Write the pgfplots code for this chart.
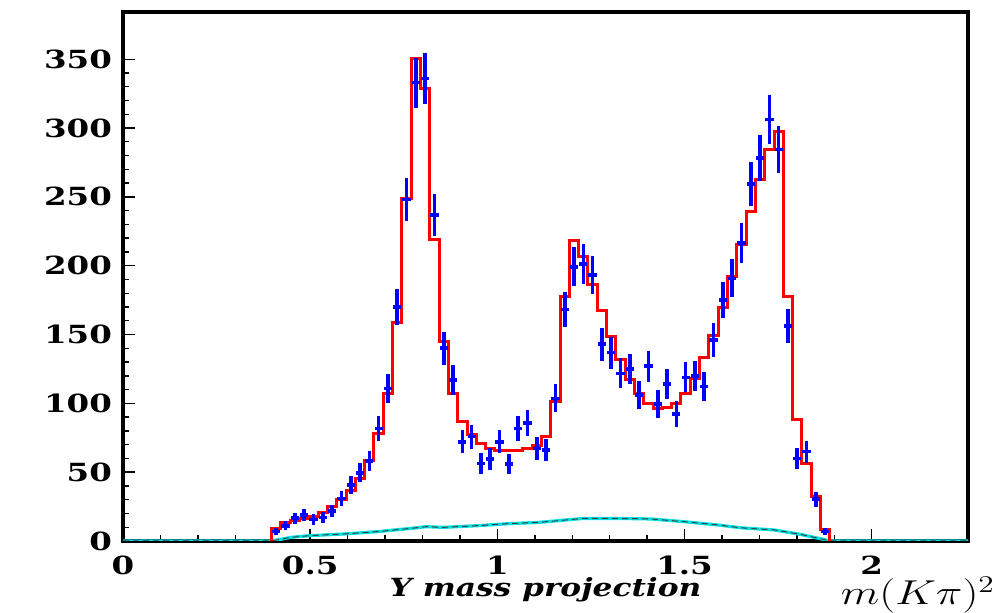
\documentclass[border=0pt]{standalone}
\usepackage{pgfplots}
\pgfplotsset{compat=1.18}
\usepackage{pgfplotstable}
\usepackage{graphicx}
\usepackage{fontspec}
\setmainfont{DejaVu Serif}

\definecolor{fitred}{RGB}{255,0,0}
\definecolor{datablue}{RGB}{0,0,255}
\definecolor{bkgcyan}{RGB}{0,225,225}

% fit histogram: left bin edges and bin contents
\pgfplotstableread{
x h
0.3970 0
0.3970 9.2
0.4219 13.3
0.4467 14.8
0.4716 16.5
0.4964 17.7
0.5213 20.6
0.5461 24.9
0.5710 30.3
0.5958 37.0
0.6207 45.5
0.6455 58.8
0.6704 78.2
0.6952 107.0
0.7201 158.5
0.7449 248.9
0.7698 350.5
0.7946 328.7
0.8195 219.1
0.8443 144.8
0.8692 107.0
0.8940 86.7
0.9189 77.0
0.9437 70.9
0.9686 67.3
0.9934 66.1
1.0183 66.1
1.0431 66.1
1.0680 67.3
1.0928 69.7
1.1177 75.8
1.1425 101.2
1.1674 177.4
1.1922 218.1
1.2171 206.5
1.2419 186.6
1.2668 167.8
1.2916 148.4
1.3165 131.9
1.3413 117.4
1.3662 106.8
1.3910 100.0
1.4159 96.4
1.4407 97.1
1.4656 100.0
1.4904 107.2
1.5153 118.1
1.5401 133.1
1.5650 149.1
1.5898 169.7
1.6147 191.9
1.6395 215.5
1.6644 239.2
1.6892 262.9
1.7141 284.7
1.7389 297.3
1.7638 177.4
1.7886 87.9
1.8135 56.4
1.8383 32.2
1.8632 8.5
1.8880 8.5
1.8880 0
}\fittable

% data: bin centre, entries, error
\pgfplotstableread{
x y e
0.4094 6.8 2.6
0.4343 11.1 3.3
0.4591 16.5 4.1
0.4840 18.9 4.3
0.5088 15.7 4.0
0.5337 17.2 4.1
0.5585 21.8 4.7
0.5834 31.0 5.6
0.6082 40.7 6.4
0.6331 49.6 7.0
0.6579 58.1 7.6
0.6828 81.8 9.0
0.7076 110.9 10.5
0.7325 170.0 13.0
0.7573 248.0 15.7
0.7822 333.0 18.2
0.8070 336.0 18.3
0.8319 237.0 15.4
0.8567 140.0 11.8
0.8816 117.0 10.8
0.9064 72.1 8.5
0.9313 75.8 8.7
0.9561 56.4 7.5
0.9810 59.5 7.7
1.0058 72.1 8.5
1.0307 55.9 7.5
1.0555 81.8 9.0
1.0804 85.9 9.3
1.1052 67.3 8.2
1.1301 66.1 8.1
1.1549 103.6 10.2
1.1798 168.2 13.0
1.2046 199.2 14.1
1.2295 201.2 14.2
1.2543 193.2 13.9
1.2792 143.0 12.0
1.3040 136.8 11.7
1.3289 121.8 11.0
1.3537 124.9 11.2
1.3786 106.0 10.3
1.4034 127.0 11.3
1.4283 99.5 10.0
1.4531 114.0 10.7
1.4780 92.2 9.6
1.5028 118.9 10.9
1.5277 119.8 10.9
1.5525 112.1 10.6
1.5774 146.0 12.1
1.6022 175.0 13.2
1.6271 190.8 13.8
1.6519 216.6 14.7
1.6768 259.3 16.1
1.7016 278.4 16.7
1.7265 306.2 17.5
1.7513 284.4 16.9
1.7762 156.1 12.5
1.8010 60.0 7.7
1.8259 64.9 8.1
1.8507 30.3 5.5
1.8756 6.8 2.6
}\datatable

% background component
\pgfplotstableread{
x b
0 0
0.397 0
0.45 2.7
0.50 3.9
0.59 5.1
0.68 6.8
0.77 9.2
0.81 10.4
0.855 9.9
0.945 11.1
1.03 12.6
1.11 13.5
1.23 16.4
1.32 16.4
1.41 16.0
1.50 14.0
1.59 11.6
1.65 9.6
1.74 8.0
1.81 4.8
1.87 1.2
1.888 0
2.257 0
}\bkgtable

\newcommand{\ticklab}[1]{\scalebox{1.3}[1]{\fontsize{12.5}{14}\selectfont\bfseries #1}}

\begin{document}
\begin{tikzpicture}
\useasboundingbox (-61.5pt,-36pt) rectangle (436.5pt,270.5pt);
\begin{axis}[
    scale only axis,
    width=422.5pt, height=264.5pt,
    xmin=0, xmax=2.257,
    ymin=0, ymax=384.3,
    xtick={0,0.5,1,1.5,2},
    ytick={0,50,100,150,200,250,300,350},
    minor x tick num=4,
    minor y tick num=4,
    xtick pos=bottom, ytick pos=left,
    tick align=inside,
    major tick length=6pt, minor tick length=3pt,
    tick style={black, line width=0.7pt},
    axis line style={line width=1.7pt},
    /pgf/number format/assume math mode=true,
    xticklabel={\ticklab{\pgfmathprintnumber{\tick}}},
    yticklabel={\ticklab{\pgfmathprintnumber{\tick}}},
    xticklabel style={yshift=-4pt},
    yticklabel style={xshift=-2pt},
    xlabel={\scalebox{1.25}[1]{\fontsize{12.5}{14}\selectfont\bfseries\itshape Y mass projection}},
    xlabel style={at={(axis description cs:0.5,0)}, anchor=center, yshift=-24.5pt},
    clip=true,
]
\addplot[bkgcyan, line width=1.6pt] table[x=x, y=b] {\bkgtable};
\addplot[black!75, line width=0.5pt, densely dashed] table[x=x, y=b] {\bkgtable};

\addplot[fitred, line width=1.5pt, const plot mark left] table[x=x, y=h] {\fittable};

\addplot[draw=none, mark=none,
    error bars/.cd,
        x dir=both, x fixed=0.011,
        y dir=both, y explicit,
        error mark=none,
        error bar style={draw=datablue, line width=1.8pt},
] table[x=x, y=y, y error=e] {\datatable};
\end{axis}
\node at (436.5pt-36.5pt-2.5pt,-27pt) {\scalebox{1.3}[1]{\fontsize{18}{20}\selectfont $m(K\pi)^2$}};
\end{tikzpicture}
\end{document}
